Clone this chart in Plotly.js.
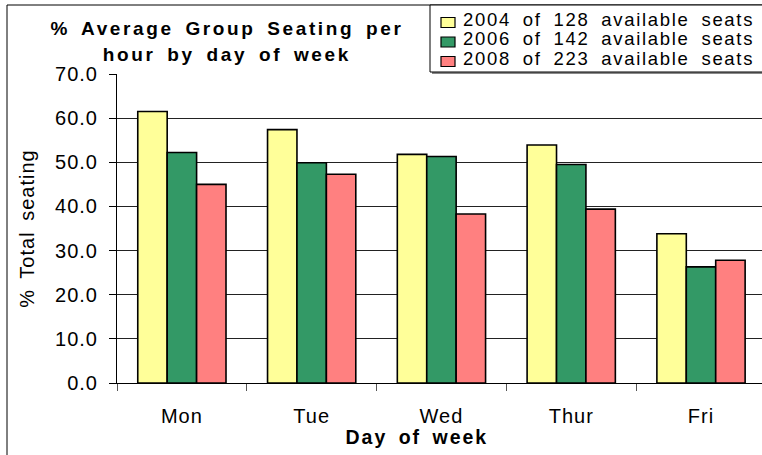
<!DOCTYPE html>
<html>
<head>
<meta charset="utf-8">
<script src="https://cdn.plot.ly/plotly-3.0.1.min.js"></script>
<style>
html,body{margin:0;padding:0;background:#fff;}
#chart{width:762px;height:455px;}
text{letter-spacing:1px;word-spacing:4px;}
.annotation[data-index="0"] text, .annotation[data-index="1"] text{letter-spacing:2.6px;word-spacing:4px;}
.annotation[data-index="2"] text, .annotation[data-index="3"] text, .annotation[data-index="4"] text{letter-spacing:1.7px;word-spacing:5px;}
.annotation[data-index="5"] text{letter-spacing:2px;word-spacing:4px;}
</style>
</head>
<body>
<div id="chart"></div>
<script>
var days = ["Mon", "Tue", "Wed", "Thur", "Fri"];
var seriesNames = ["2004 of 128 available seats", "2006 of 142 available seats", "2008 of 223 available seats"];
var values2004 = [61.5, 57.4, 51.8, 53.9, 33.8];
var values2006 = [52.2, 49.9, 51.3, 49.5, 26.3];
var values2008 = [45.0, 47.3, 38.3, 39.4, 27.8];
var colors = ["#FFFF99", "#339966", "#FF8080"];
var yTicks = [0, 10, 20, 30, 40, 50, 60, 70];
var titleLines = ["% Average Group Seating per", "hour by day of week"];
var xTitle = "Day of week";
var yTitle = "% Total seating";

var allValues = [values2004, values2006, values2008];
var traces = allValues.map(function (vals, i) {
  return {
    type: "bar",
    x: days,
    y: vals,
    name: seriesNames[i],
    showlegend: false,
    marker: { color: colors[i], line: { color: "#000", width: 1.6 } }
  };
});

var FONT = "Liberation Sans, Arial, sans-serif";
// pixel -> paper helpers (plot area: x 117..762, y 74..383)
var L = 117, T = 74, W = 645, H = 309;
function px(x) { return (x - L) / W; }
function py(y) { return (T + H - y) / H; }

var shapes = [
  { type: "line", xref: "paper", yref: "paper", x0: px(7), x1: px(7), y0: py(470), y1: py(5), line: { color: "#000", width: 1 } },
  { type: "line", xref: "paper", yref: "paper", x0: px(7), x1: px(800), y0: py(5), y1: py(5), line: { color: "#000", width: 1 } },
  { type: "rect", xref: "paper", yref: "paper", x0: px(432), x1: px(820), y0: py(74), y1: py(7), fillcolor: "#888", line: { width: 0 } },
  { type: "rect", xref: "paper", yref: "paper", x0: px(430), x1: px(810), y0: py(72), y1: py(5), fillcolor: "#fff", line: { color: "#000", width: 1 } }
];
var titleY = [28, 55];
var annotations = titleLines.map(function (line, i) {
  return {
    text: "<b>" + line + "</b>",
    xref: "paper", yref: "paper", x: px(227), y: py(titleY[i]), xanchor: "center", yanchor: "middle",
    showarrow: false, font: { family: FONT, size: 19, color: "#000" }
  };
});
var rowY = [19.5, 39, 58.5];
seriesNames.forEach(function (name, i) {
  shapes.push({ type: "rect", xref: "paper", yref: "paper", x0: px(441), x1: px(455), y0: py(rowY[i] + 8), y1: py(rowY[i] - 2), fillcolor: colors[i], line: { color: "#000", width: 1.2 } });
  annotations.push({ text: name, xref: "paper", yref: "paper", x: px(461), y: py(rowY[i]), xanchor: "left", align: "left", yanchor: "middle", showarrow: false, font: { family: FONT, size: 18.5, color: "#000" } });
});
annotations.push({
  text: "<b>" + xTitle + "</b>", xref: "paper", yref: "paper", x: px(417), y: py(437),
  xanchor: "center", yanchor: "middle", showarrow: false, font: { family: FONT, size: 19.5, color: "#000" }
});

var layout = {
  width: 762, height: 455,
  margin: { l: L, r: 0, t: T, b: 455 - T - H },
  paper_bgcolor: "#fff", plot_bgcolor: "#fff",
  barmode: "group", bargap: 0.32, bargroupgap: 0,
  font: { family: FONT, color: "#000", size: 20 },
  showlegend: false,
  xaxis: {
    type: "category",
    range: [-0.5, 4.47],
    showline: true, linecolor: "#000", linewidth: 1,
    ticks: "outside", tickson: "boundaries", ticklen: 7, tickcolor: "#555",
    tickfont: { family: FONT, size: 20 },
    ticklabelstandoff: 15,
    showgrid: false, zeroline: false
  },
  yaxis: {
    range: [0, 70],
    tickvals: yTicks,
    ticktext: yTicks.map(function (v) { return v.toFixed(1); }),
    showline: true, linecolor: "#000", linewidth: 1,
    ticks: "outside", ticklen: 7, tickcolor: "#000",
    tickfont: { family: FONT, size: 20 },
    ticklabelstandoff: 7,
    showgrid: true, gridcolor: "#222", gridwidth: 1,
    zeroline: false,
    title: { text: yTitle, font: { family: FONT, size: 20 }, standoff: 15 }
  },
  shapes: shapes,
  annotations: annotations
};

Plotly.newPlot("chart", traces, layout, { displayModeBar: false, staticPlot: true });
</script>
</body>
</html>
